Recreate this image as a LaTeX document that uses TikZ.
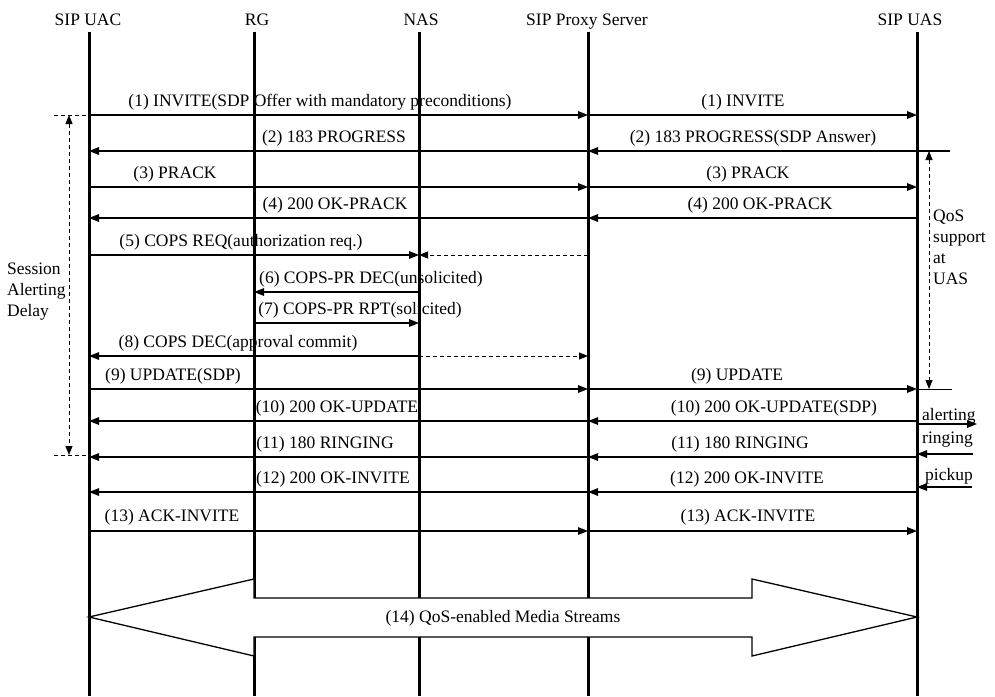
\documentclass[tikz,border=0pt]{standalone}
\usepackage{fontspec}
\setmainfont{Liberation Serif}
\usetikzlibrary{arrows.meta}
\begin{document}
\begin{tikzpicture}[x=1pt,y=-1pt,
  every node/.style={font=\fontsize{17.5}{20}\selectfont, inner sep=0pt},
  lifeline/.style={line width=3pt},
  msg/.style={line width=1.4pt, -{Triangle[length=10pt,width=7.5pt]}},
  dmsg/.style={line width=1pt, dash pattern=on 4pt off 3pt, -{Triangle[length=9pt,width=7pt]}},
  thin tick/.style={line width=1pt},
  dtick/.style={line width=1pt, dash pattern=on 4pt off 3pt},
  spanarrow/.style={line width=1pt, dash pattern=on 4pt off 3pt, {Triangle[length=9pt,width=7pt]}-{Triangle[length=9pt,width=7pt]}},
  lbl/.style={anchor=base},
  side/.style={anchor=base west},
  bigarrow/.style={draw, fill=white, line width=1.3pt, line join=miter}]
\useasboundingbox (0,0) rectangle (995,696);

% headers
\node[lbl] (hUAC) at (88,25) {SIP UAC};
\node[lbl] (hRG) at (257,25) {RG};
\node[lbl] (hNAS) at (421,25) {NAS};
\node[lbl] (hPRX) at (587,25) {SIP Proxy Server};
\node[lbl] (hUAS) at (910,25) {SIP UAS};

% lifeline ends
\coordinate (lUAC) at (89,32);
\coordinate (lRG) at (254,32);
\coordinate (lNAS) at (419,32);
\coordinate (lPRX) at (588,32);
\coordinate (lUAS) at (917,32);
\coordinate (bUAC) at (89,696);
\coordinate (bRG) at (254,696);
\coordinate (bNAS) at (419,696);
\coordinate (bPRX) at (588,696);
\coordinate (bUAS) at (917,696);

\foreach \t/\b in {lUAC/bUAC,lRG/bRG,lNAS/bNAS,lPRX/bPRX,lUAS/bUAS}
  \draw[lifeline] (\t) -- (\b);

% message rows
\coordinate (r1) at (0,115);
\coordinate (r2) at (0,151);
\coordinate (r3) at (0,187);
\coordinate (r4) at (0,218);
\coordinate (r5) at (0,255);
\coordinate (r6) at (0,292);
\coordinate (r7) at (0,323);
\coordinate (r8) at (0,356);
\coordinate (r9) at (0,389);
\coordinate (r10) at (0,421);
\coordinate (r11) at (0,457);
\coordinate (r12) at (0,492);
\coordinate (r13) at (0,531);
\coordinate (e2) at (950,151);
\coordinate (e9) at (952,389);

% messages
\draw[msg] (lUAC |- r1) -- (lPRX |- r1);
\draw[msg] (lPRX |- r1) -- (lUAS |- r1);
\draw[msg] (lPRX |- r2) -- (lUAC |- r2);
\draw[msg] (e2) -- (lPRX |- r2);
\draw[msg] (lUAC |- r3) -- (lPRX |- r3);
\draw[msg] (lPRX |- r3) -- (lUAS |- r3);
\draw[msg] (lPRX |- r4) -- (lUAC |- r4);
\draw[msg] (lUAS |- r4) -- (lPRX |- r4);
\draw[msg] (lUAC |- r5) -- (lNAS |- r5);
\draw[dmsg] (lPRX |- r5) -- (lNAS |- r5);
\draw[msg] (lNAS |- r6) -- (lRG |- r6);
\draw[msg] (lRG |- r7) -- (lNAS |- r7);
\draw[msg] (lNAS |- r8) -- (lUAC |- r8);
\draw[dmsg] (lNAS |- r8) -- (lPRX |- r8);
\draw[msg] (lUAC |- r9) -- (lPRX |- r9);
\draw[msg] (lPRX |- r9) -- (lUAS |- r9);
\draw[thin tick] (lUAS |- r9) -- (e9);
\draw[msg] (lPRX |- r10) -- (lUAC |- r10);
\draw[msg] (lUAS |- r10) -- (lPRX |- r10);
\draw[msg] (lPRX |- r11) -- (lUAC |- r11);
\draw[msg] (lUAS |- r11) -- (lPRX |- r11);
\draw[msg] (lPRX |- r12) -- (lUAC |- r12);
\draw[msg] (lUAS |- r12) -- (lPRX |- r12);
\draw[msg] (lUAC |- r13) -- (lPRX |- r13);
\draw[msg] (lPRX |- r13) -- (lUAS |- r13);

% labels
\node[lbl] (m1a) at (320,106) {(1) INVITE(SDP Offer with mandatory preconditions)};
\node[lbl] (m1b) at (743,106) {(1) INVITE};
\node[lbl] (m2a) at (334,142) {(2) 183 PROGRESS};
\node[lbl] (m2b) at (753,142) {(2) 183 PROGRESS(SDP Answer)};
\node[lbl] (m3a) at (175,178) {(3) PRACK};
\node[lbl] (m3b) at (748,178) {(3) PRACK};
\node[lbl] (m4a) at (335,209) {(4) 200 OK-PRACK};
\node[lbl] (m4b) at (760,209) {(4) 200 OK-PRACK};
\node[lbl] (m5) at (241,246) {(5) COPS REQ(authorization req.)};
\node[lbl] (m6) at (371,283) {(6) COPS-PR DEC(unsolicited)};
\node[lbl] (m7) at (360,314) {(7) COPS-PR RPT(solicited)};
\node[lbl] (m8) at (238,347) {(8) COPS DEC(approval commit)};
\node[lbl] (m9a) at (173,380) {(9) UPDATE(SDP)};
\node[lbl] (m9b) at (737,380) {(9) UPDATE};
\node[lbl] (m10a) at (337,412) {(10) 200 OK-UPDATE};
\node[lbl] (m10b) at (774,412) {(10) 200 OK-UPDATE(SDP)};
\node[lbl] (m11a) at (325,448) {(11) 180 RINGING};
\node[lbl] (m11b) at (740,448) {(11) 180 RINGING};
\node[lbl] (m12a) at (333,483) {(12) 200 OK-INVITE};
\node[lbl] (m12b) at (747,483) {(12) 200 OK-INVITE};
\node[lbl] (m13a) at (172,521) {(13) ACK-INVITE};
\node[lbl] (m13b) at (748,521) {(13) ACK-INVITE};

% session alerting delay
\coordinate (saL1) at (54,115);
\coordinate (saL2) at (54,455);
\coordinate (sa1) at (69,115);
\coordinate (sa2) at (69,455);
\draw[dtick] (saL1) -- (lUAC |- saL1);
\draw[dtick] (saL2) -- (lUAC |- saL2);
\draw[spanarrow] (sa1) -- (sa2);
\node[side] (sess) at (7,274) {Session};
\node[side] (alert) at (7,295) {Alerting};
\node[side] (delay) at (7,316) {Delay};

% QoS support at UAS
\coordinate (q1) at (929,151);
\coordinate (q2) at (929,389);
\draw[spanarrow] (q1) -- (q2);
\node[side] (qos) at (933,221) {QoS};
\node[side] (supp) at (933,242) {support};
\node[side] (at) at (933,263) {at};
\node[side] (uas) at (933,284) {UAS};

% local events at UAS
\coordinate (ev1) at (977,424);
\coordinate (ev2) at (973,454);
\coordinate (ev3) at (972,487);
\draw[msg] (lUAS |- ev1) -- (ev1);
\draw[msg] (ev2) -- (lUAS |- ev2);
\draw[msg] (ev3) -- (lUAS |- ev3);
\node[side] (talert) at (922,420) {alerting};
\node[side] (tring) at (922,443) {ringing};
\node[side] (tpick) at (925,480) {pickup};

% media streams
\draw[bigarrow] (lUAC |- 0,617) -- (254,579) -- (254,598) -- (752,598) -- (752,579)
  -- (lUAS |- 0,617) -- (752,656) -- (752,637) -- (254,637) -- (254,656) -- cycle;
\node[anchor=center] (media) at (503,618) {(14) QoS-enabled Media Streams};
\end{tikzpicture}
\end{document}
